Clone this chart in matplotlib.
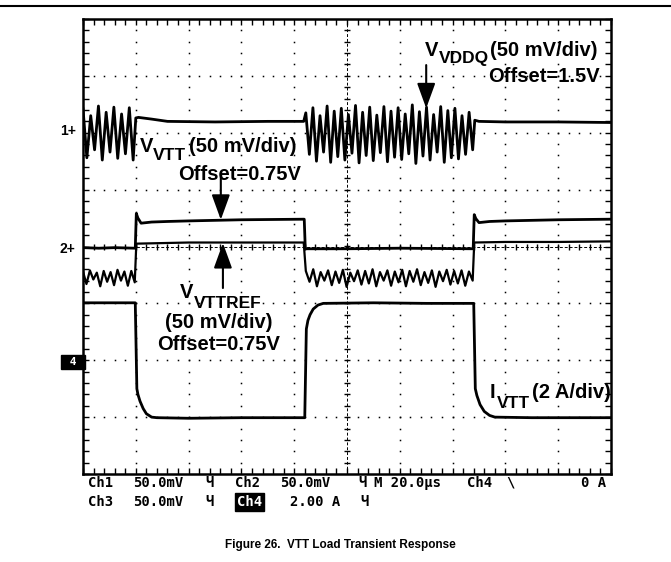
import numpy as np
import matplotlib.pyplot as plt

# scope screen is 10 x 8 divisions, all trace values are in divisions from screen centre
W, H = 671, 562

# Ch1 VDDQ: ringing bursts while load is off, flat while load is on
vddq_burst1 = (0.0, 0.95)
vddq_hi1 = [2.42, 2.30, 2.47, 2.36, 2.45, 2.33, 2.44]
vddq_lo1 = [1.56, 1.70, 1.52, 1.66, 1.55, 1.63, 1.52]
vddq_flat1_t = [1.0, 1.05, 1.3, 1.6, 2.5, 3.5, 4.18]
vddq_flat1_v = [2.26, 2.27, 2.24, 2.20, 2.19, 2.20, 2.20]
vddq_burst2 = (4.22, 7.38)
vddq_hi2 = [2.35, 2.44, 2.30, 2.47, 2.38, 2.43, 2.32, 2.48, 2.36, 2.45, 2.31, 2.46,
            2.38, 2.44, 2.33, 2.49, 2.37, 2.45, 2.32, 2.46, 2.39, 2.43, 2.30, 2.36]
vddq_lo2 = [1.62, 1.50, 1.66, 1.48, 1.58, 1.52, 1.64, 1.47, 1.60, 1.51, 1.65, 1.49,
            1.57, 1.53, 1.63, 1.46, 1.59, 1.52, 1.66, 1.48, 1.56, 1.54, 1.62, 1.70]
vddq_flat2_t = [7.42, 7.5, 8.0, 9.0, 10.0]
vddq_flat2_v = [2.22, 2.20, 2.19, 2.19, 2.18]

# Ch2 VTT
vtt_t = [0, 0.3, 0.6, 0.99, 1.01, 1.04, 1.1, 1.3, 1.6, 2.0, 3.0, 4.19, 4.21, 5.0, 6.0,
         7.39, 7.41, 7.44, 7.5, 7.7, 8.0, 9.0, 10]
vtt_v = [-0.02, -0.03, -0.02, -0.03, 0.58, 0.50, 0.41, 0.43, 0.44, 0.45, 0.47, 0.48,
         -0.04, -0.04, -0.03, -0.04, 0.56, 0.49, 0.42, 0.44, 0.45, 0.47, 0.48]

# Ch3 VTTREF: noisy while load is off
vttref_burst1 = (0.0, 0.98)
vttref_hi1 = [-0.44, -0.42, -0.46, -0.43, -0.45, -0.41, -0.44, -0.43]
vttref_lo1 = [-0.66, -0.58, -0.70, -0.62, -0.68, -0.60, -0.69, -0.63]
vttref_on1_t = [1.01, 1.5, 2.0, 3.0, 4.18]
vttref_on1_v = [0.05, 0.06, 0.07, 0.07, 0.07]
vttref_burst2 = (4.22, 7.38)
vttref_hi2 = [-0.43, -0.40, -0.45, -0.42, -0.44, -0.41, -0.46, -0.42, -0.43, -0.40, -0.45, -0.42,
              -0.44, -0.41, -0.43, -0.40, -0.45, -0.42, -0.44, -0.41, -0.43, -0.42, -0.44]
vttref_lo2 = [-0.62, -0.70, -0.60, -0.68, -0.64, -0.71, -0.61, -0.67, -0.65, -0.70, -0.60, -0.69,
              -0.63, -0.70, -0.62, -0.68, -0.64, -0.71, -0.61, -0.67, -0.65, -0.69, -0.60]
vttref_on2_t = [7.41, 8.0, 9.0, 10.0]
vttref_on2_v = [0.07, 0.08, 0.08, 0.09]

# Ch4 IVTT (2 A/div)
ivtt_t = [0, 0.99, 1.02, 1.04, 1.08, 1.14, 1.2, 1.3, 1.4, 2.0, 3.0, 4.2, 4.23, 4.26, 4.3,
          4.36, 4.45, 4.55, 5.5, 6.5, 7.4, 7.43, 7.46, 7.52, 7.6, 7.7, 7.8, 8.5, 10]
ivtt_v = [-0.99, -0.99, -2.50, -2.60, -2.72, -2.85, -2.94, -3.00, -3.01, -3.02, -3.01, -3.01,
          -1.45, -1.30, -1.20, -1.10, -1.03, -1.00, -0.99, -1.00, -1.00, -2.50, -2.62, -2.78,
          -2.90, -2.97, -3.00, -3.01, -3.01]


def zigzag(span, hi, lo):
    t = np.linspace(span[0], span[1], 2 * len(hi))
    v = np.ravel(np.column_stack([hi, lo]))
    return t, v


def fig_xy(x, y):
    return x / W, 1 - y / H


fig = plt.figure(figsize=(W / 100, H / 100), dpi=100)
ax = fig.add_axes([83 / W, 1 - 474 / H, 528 / W, 455 / H])
ax.set_xlim(0, 10)
ax.set_ylim(-4, 4)

# graticule
fine_x = np.arange(0.2, 10, 0.2)
fine_y = np.arange(-3.8, 4, 0.2)
for xi in [1, 2, 3, 4, 6, 7, 8, 9]:
    ax.plot(np.full_like(fine_y, xi), fine_y, ls='none', marker='s', ms=1.1, mew=0, color='k')
for yi in [-3, -2, -1, 1, 2, 3]:
    ax.plot(fine_x, np.full_like(fine_x, yi), ls='none', marker='s', ms=1.1, mew=0, color='k')
ax.plot([5, 5], [-4, 4], color='k', lw=0.7, dashes=(3, 2))
ax.plot(np.full_like(fine_y, 5), fine_y, ls='none', marker='_', ms=5, mew=1, color='k')
ax.plot([0, 10], [0, 0], color='k', lw=0.7, dashes=(3, 2))
ax.plot(fine_x, np.zeros_like(fine_x), ls='none', marker='|', ms=5, mew=1, color='k')

ax.set_xticks(np.arange(0, 11, 1))
ax.set_yticks(np.arange(-4, 5, 1))
ax.set_xticks(np.arange(0, 10.01, 0.2), minor=True)
ax.set_yticks(np.arange(-4, 4.01, 0.2), minor=True)
ax.tick_params(which='both', direction='in', length=4, width=1, top=True, right=True,
               labelbottom=False, labelleft=False)
for s in ax.spines.values():
    s.set_linewidth(1.8)

# traces
lw = 2.0
t1, v1 = zigzag(vddq_burst1, vddq_hi1, vddq_lo1)
t2, v2 = zigzag(vddq_burst2, vddq_hi2, vddq_lo2)
ax.plot(np.concatenate([t1, vddq_flat1_t, t2, vddq_flat2_t]),
        np.concatenate([v1, vddq_flat1_v, v2, vddq_flat2_v]), color='k', lw=lw)

ax.plot(vtt_t, vtt_v, color='k', lw=lw)

r1, w1 = zigzag(vttref_burst1, vttref_hi1, vttref_lo1)
r2, w2 = zigzag(vttref_burst2, vttref_hi2, vttref_lo2)
ax.plot(np.concatenate([r1, vttref_on1_t, r2, vttref_on2_t]),
        np.concatenate([w1, vttref_on1_v, w2, vttref_on2_v]), color='k', lw=1.6)

ax.plot(ivtt_t, ivtt_v, color='k', lw=lw)

# arrows
head = dict(arrowstyle='-|>,head_length=1.1,head_width=0.4', mutation_scale=14,
            color='k', lw=1.5, shrinkA=0, shrinkB=0)
ax.annotate('', xy=(6.5, 2.43), xytext=(6.5, 3.19), arrowprops=head)
ax.annotate('', xy=(2.61, 0.47), xytext=(2.61, 1.22), arrowprops=head)
ax.annotate('', xy=(2.65, 0.06), xytext=(2.65, -0.73), arrowprops=head)

# channel markers
fig.text(*fig_xy(60, 131), '1+', fontsize=10, fontweight='bold', va='center',
         family='Liberation Sans')
fig.text(*fig_xy(60, 249), '2+', fontsize=10, fontweight='bold', va='center',
         family='Liberation Sans')
fig.text(*fig_xy(63, 362), ' 4 ', fontsize=8, fontweight='bold', va='center', color='white',
         family='DejaVu Sans Mono',
         bbox=dict(facecolor='k', edgecolor='k', pad=0.15, boxstyle='square'))

# trace labels
lab = dict(fontsize=14.5, fontweight='bold', family='Liberation Sans', va='center')
sub = dict(fontsize=12.5, fontweight='bold', family='Liberation Sans', va='center')
fig.text(*fig_xy(425, 50), 'V', **lab)
fig.text(*fig_xy(439, 59), 'VDDQ', **sub)
fig.text(*fig_xy(490, 50), '(50 mV/div)', **lab)
fig.text(*fig_xy(488, 76), 'Offset=1.5V', **lab)

fig.text(*fig_xy(140, 147), 'V', **lab)
fig.text(*fig_xy(153, 156), 'VTT', **sub)
fig.text(*fig_xy(189, 147), '(50 mV/div)', **lab)
fig.text(*fig_xy(178, 174), 'Offset=0.75V', **lab)

fig.text(*fig_xy(180, 293), 'V', **lab)
fig.text(*fig_xy(194, 303), 'VTTREF', **sub)
fig.text(*fig_xy(165, 322), '(50 mV/div)', **lab)
fig.text(*fig_xy(157, 344), 'Offset=0.75V', **lab)

fig.text(*fig_xy(490, 393), 'I', **lab)
fig.text(*fig_xy(497, 403), 'VTT', **sub)
fig.text(*fig_xy(532, 393), '(2 A/div)', **lab)

# readout
ro = dict(fontsize=10, fontweight='bold', family='DejaVu Sans Mono', va='center')
row1 = 483
row2 = 502
for x, s in [(88, 'Ch1'), (133, '50.0mV'), (205, 'Ч'), (235, 'Ch2'), (280, '50.0mV'),
             (358, 'Ч'), (374, 'M 20.0µs'), (467, 'Ch4'), (506, '\\'), (581, '0 A')]:
    fig.text(*fig_xy(x, row1), s, **ro)
for x, s in [(88, 'Ch3'), (133, '50.0mV'), (205, 'Ч'), (290, '2.00 A'), (360, 'Ч')]:
    fig.text(*fig_xy(x, row2), s, **ro)
fig.text(*fig_xy(237, row2), 'Ch4', color='white',
         bbox=dict(facecolor='k', edgecolor='k', pad=0.15, boxstyle='square'), **ro)

# page rule and caption
fig.add_artist(plt.Line2D([0, 1], [1 - 6 / H, 1 - 6 / H], color='k', lw=1.5))
fig.text(*fig_xy(340, 545), 'Figure 26.  VTT Load Transient Response', ha='center',
         va='center', fontsize=8.5, fontweight='bold', family='Liberation Sans')

fig.savefig('out.png', dpi=100)
